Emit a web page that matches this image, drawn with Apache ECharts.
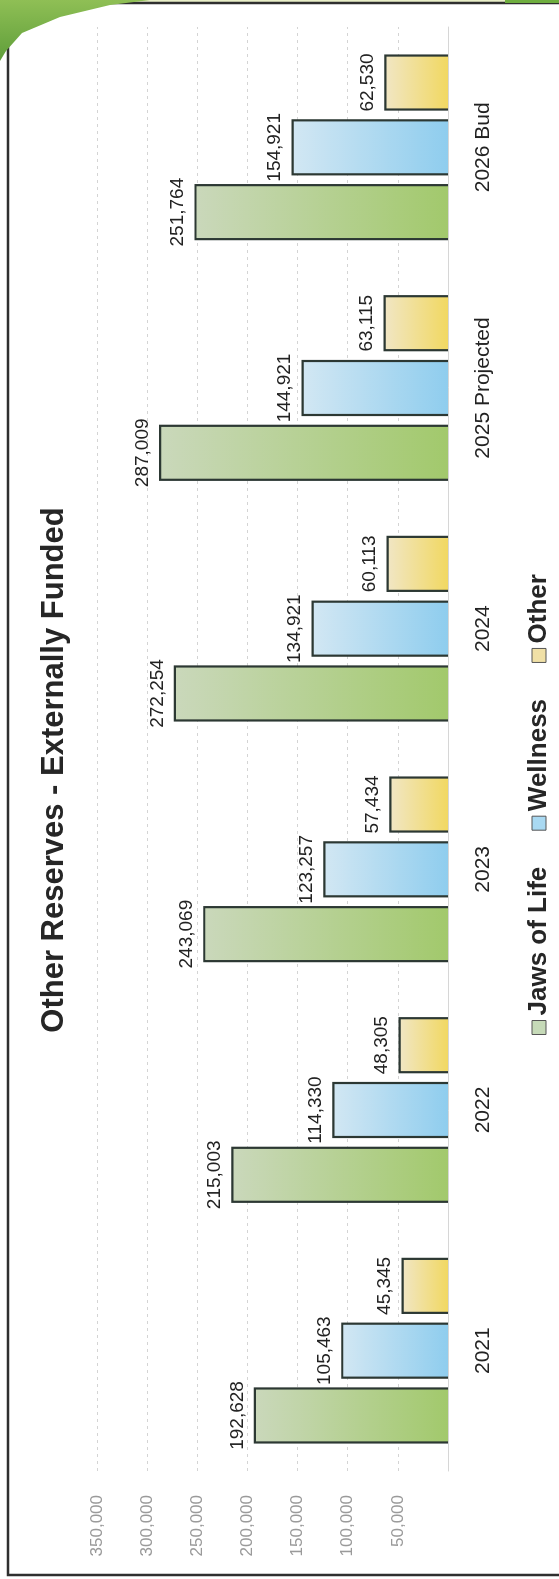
<!DOCTYPE html>
<html><head><meta charset="utf-8">
<script src="https://cdn.jsdelivr.net/npm/echarts@6/dist/echarts.min.js"></script>
<style>
html,body{margin:0;padding:0;background:#fff;overflow:hidden;width:559px;height:1579px}
#chart{position:absolute;left:0;top:0;width:1579px;height:559px;transform-origin:0 0;transform:translate(0,1579px) rotate(-90deg);}
</style></head><body><div id="chart"></div>
<script>
// ---- data ----
const categories = ['2021', '2022', '2023', '2024', '2025 Projected', '2026 Bud'];
const jawsOfLife = [192628, 215003, 243069, 272254, 287009, 251764];
const wellness   = [105463, 114330, 123257, 134921, 144921, 154921];
const other      = [45345, 48305, 57434, 60113, 63115, 62530];
const seriesNames = ['Jaws of Life', 'Wellness', 'Other'];
const valueMin = 0, valueMax = 350000, valueInterval = 50000;
const titleText = 'Other Reserves - Externally Funded';

// ---- chart (drawn landscape, page rotated like the scanned page) ----
const chart = echarts.init(document.getElementById('chart'));
const FONT = '"Liberation Sans", Arial, sans-serif';
const BAR_W = 54, BAR_GAP = 0.2;
function grad(light, dark) {
  return new echarts.graphic.LinearGradient(0, 0, 0, 1, [
    { offset: 0, color: light }, { offset: 1, color: dark }
  ]);
}
const fmt = v => Number(v).toLocaleString('en-US');
const barLabel = {
  show: true, position: 'top', distance: 8,
  fontFamily: FONT, fontSize: 19, color: '#222',
  formatter: p => fmt(p.value)
};
const styles = [
  { light: '#cad8bb', dark: '#a2c96c', legend: '#c6dab8' },
  { light: '#d2e7f3', dark: '#8fcdee', legend: '#a9d9f2' },
  { light: '#f1e6c4', dark: '#f1d862', legend: '#f0e0a6' }
];
const data = [jawsOfLife, wellness, other];
const groupW = 3 * BAR_W + 2 * BAR_W * BAR_GAP;
const series = [];
seriesNames.forEach((name, i) => {
  series.push({
    name, type: 'bar', data: data[i],
    barWidth: BAR_W, barGap: (BAR_GAP * 100) + '%',
    itemStyle: { color: grad(styles[i].light, styles[i].dark), borderWidth: 0 },
    label: barLabel,
    emphasis: { disabled: true }
  });
});
// three-sided outlines (no edge at the baseline), placed with the axis scales
seriesNames.forEach((name, i) => {
  const offset = -groupW / 2 + BAR_W / 2 + i * BAR_W * (1 + BAR_GAP);
  series.push({
    name, type: 'custom', z: 3, silent: true,
    data: data[i].map((v, k) => [k, v]),
    renderItem: (params, api) => {
      const top = api.coord([api.value(0), api.value(1)]);
      const base = api.coord([api.value(0), 0]);
      const x0 = top[0] + offset - BAR_W / 2, x1 = top[0] + offset + BAR_W / 2;
      return {
        type: 'polyline',
        shape: { points: [[x0, base[1]], [x0, top[1]], [x1, top[1]], [x1, base[1]]] },
        style: { stroke: '#2c3833', lineWidth: 2.2, fill: null }
      };
    }
  });
});

chart.setOption({
  backgroundColor: '#ffffff',
  animation: false,
  color: styles.map(s => s.legend),
  title: {
    text: titleText, left: 804, top: 34, textAlign: 'center',
    textStyle: { fontFamily: FONT, fontSize: 31, fontWeight: 'bold', color: '#262626' }
  },
  legend: {
    data: seriesNames.map((n, i) => ({ name: n, itemStyle: { color: styles[i].legend, borderColor: '#555', borderWidth: 1 } })),
    left: 539, top: 521, icon: 'rect', itemWidth: 14, itemHeight: 14, itemGap: 36,
    textStyle: { fontFamily: FONT, fontSize: 26, fontWeight: 'bold', color: '#262626' }
  },
  grid: { left: 108, right: 27, top: 97, bottom: 111, containLabel: false },
  xAxis: {
    type: 'category', data: categories,
    axisLine: { show: true, lineStyle: { color: '#d6d6d6', width: 1 } },
    axisTick: { show: false },
    axisLabel: { margin: 25, fontFamily: FONT, fontSize: 21, color: '#222' }
  },
  yAxis: {
    type: 'value', min: valueMin, max: valueMax, interval: valueInterval,
    axisLine: { show: false }, axisTick: { show: false },
    splitLine: { show: true, lineStyle: { color: '#d4d4d4', width: 1, type: [3, 4] } },
    axisLabel: { margin: 24, fontFamily: FONT, fontSize: 17, color: '#9a9a9a',
      formatter: v => v === 0 ? '' : fmt(v) }
  },
  series,
  graphic: [
    { type: 'rect', silent: true, z: 100,
      shape: { x: 4, y: 8, width: 1572, height: 570 },
      style: { fill: 'none', stroke: '#2f2f2f', lineWidth: 2.5 } },
    { type: 'polygon', silent: true, z: 101,
      shape: { points: [[1579, 0], [1579, 150], [1574, 110], [1562, 60], [1546, 22], [1528, 6], [1518, 0]] },
      style: { fill: new echarts.graphic.LinearGradient(1, 0, 0, 0, [
        { offset: 0, color: '#8fbf55' }, { offset: 1, color: '#5f9e3a' }]) } },
    { type: 'rect', silent: true, z: 99,
      shape: { x: 1576, y: 0, width: 3, height: 559 },
      style: { fill: '#e9efc8' } },
    { type: 'rect', silent: true, z: 101,
      shape: { x: 1576, y: 505, width: 3, height: 54 },
      style: { fill: '#6fae3f' } }
  ]
});
</script></body></html>
